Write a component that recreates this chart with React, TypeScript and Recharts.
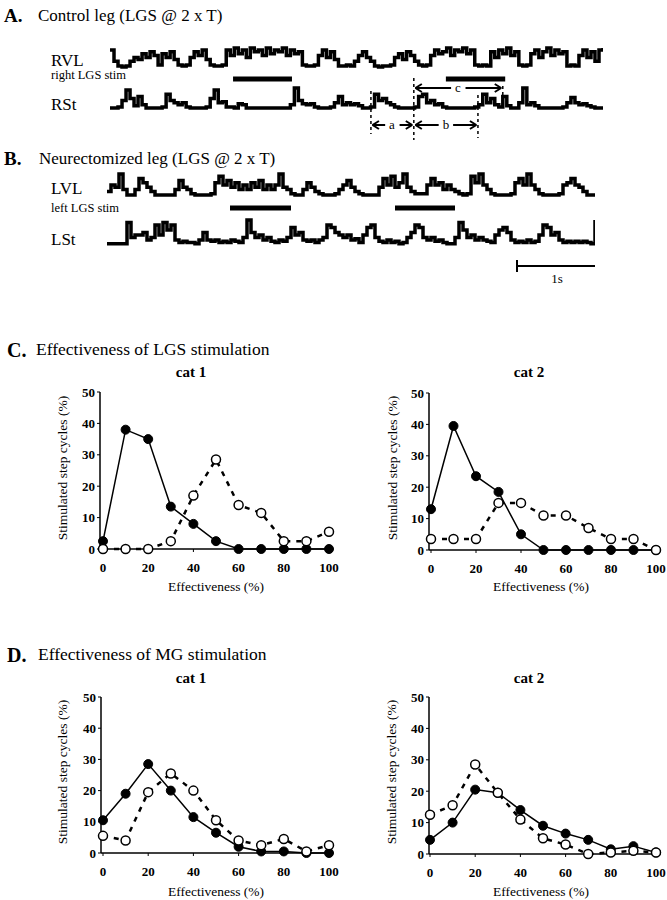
import React from "react";
import { LineChart, Line, XAxis, YAxis, ReferenceLine } from "recharts";

const SERIF = "'Liberation Serif', 'Times New Roman', Times, serif";

// EMG traces, one sample every 50 ms (rectified amplitude, 0-10)
const RVL = [9, 3, 0.5, 0, 0.5, 3, 5, 4, 7, 5, 8, 6, 1, 7, 5, 8, 4, 1, 0.5, 1, 5, 8, 6, 9, 4, 1, 0.5, 0.5, 1, 9, 6, 10, 7, 9, 5, 10, 8, 9, 6, 10, 7, 9, 8, 10, 6, 9, 7, 8, 1, 0.5, 0.5, 1, 6, 9, 5, 8, 4, 0.5, 0.5, 1, 0.5, 3, 6, 8, 5, 3, 0.5, 0, 0.5, 0.5, 1, 5, 7, 4, 8, 6, 3, 1, 0.5, 1, 6, 9, 7, 8, 10, 6, 9, 8, 10, 7, 9, 1, 0.5, 1, 0.5, 8, 5, 9, 7, 10, 6, 8, 1, 0.5, 1, 7, 9, 5, 8, 10, 6, 9, 7, 8, 0.5, 1, 0.5, 6, 9, 5, 8, 3, 9, 10];
const RST = [0.5, 0.5, 1, 4, 9, 5, 1.5, 6, 2, 0.5, 0.5, 0.5, 0.5, 1, 7, 4, 3, 2, 3, 1, 0.5, 0.5, 0.5, 0.5, 1, 5, 9, 3, 3.5, 1, 1, 0.5, 2.5, 2, 0.5, 0.5, 0.5, 0.5, 0.5, 0.5, 0.5, 0.5, 0.5, 0.5, 0.5, 2, 10, 4, 2.5, 2, 2.5, 1, 0.5, 0.5, 0.5, 1, 3, 6, 2, 3, 2, 2.5, 1.5, 0.5, 0.5, 1, 7, 4, 5, 3, 2, 1, 0.5, 0.5, 0.5, 0.5, 1, 6, 7, 3, 4, 2, 2.5, 1, 0.5, 0.5, 0.5, 0.5, 0.5, 0.5, 0.5, 1, 2, 7, 3, 5, 2, 1, 6, 1.5, 0.5, 0.5, 3, 10, 2, 3, 1.5, 0.5, 0.5, 0.5, 0.5, 0.5, 0.5, 1, 3, 5.5, 3, 2, 2.5, 1.5, 1, 0.5, 0.5, 0.5];
const LVL = [2, 5, 4, 10, 3, 0.5, 0.5, 3, 8, 6, 4, 2, 0.5, 0.5, 0.5, 0.5, 0.5, 3, 7, 4, 3, 1, 0.5, 0.5, 0.5, 0.5, 1, 6, 9, 5, 7, 4, 6, 3, 5, 3, 6, 4, 7, 3, 5, 3, 5, 10, 4, 3, 1, 0.5, 0.5, 3, 6, 4, 2, 1, 0.5, 0.5, 0.5, 1, 3, 5, 7, 4, 2, 1, 0.5, 0.5, 0.5, 0.5, 4, 8, 5, 9, 4, 6, 10, 4, 2, 1, 1, 1, 5, 8, 5, 6, 3, 5, 3, 2, 1, 0.5, 1, 9, 6, 10, 5, 3, 1, 0.5, 0.5, 0.5, 0.5, 1, 6, 8, 5, 10, 5, 3, 1, 0.5, 0.5, 0.5, 0.5, 1, 5, 6, 8, 5, 4, 2, 0.5, 0.5, 0.5];
const LST = [0.5, 0.5, 0.5, 0.5, 0.5, 9, 3, 4, 4, 5, 2, 3, 8, 4, 9, 6, 8, 2, 1, 1.5, 1, 1, 0.5, 2, 5, 2, 1.5, 2, 1, 1.5, 1, 2, 1.5, 1, 3, 10, 5, 3, 4, 2, 3, 1.5, 1, 2, 1.5, 3, 7, 4, 5, 2, 1.5, 2, 1, 2, 3, 8, 7, 5, 4, 3, 4, 2, 2.5, 1, 4, 7, 8, 3, 1.5, 1, 2, 1, 1.5, 0.5, 1, 3, 5, 8, 7, 3, 2, 3, 1.5, 2, 1, 0.5, 0.5, 3, 9, 6, 3, 4, 2, 3, 2, 1.5, 1, 4, 6, 7, 5, 2, 1, 1.5, 1, 2, 1, 1.5, 4, 8, 7, 4, 5, 2, 1, 1.5, 1, 1.5, 1, 1.5, 1, 0.5, 10];

// stimulation periods and markers, in samples
const STIM_A = [[30.7, 45.4], [83.8, 98.6]];
const MARK_A = [65.1, 75.8, 91.8, 98.0];
const STIM_B = [[30.75, 46], [72, 87]];
const SCALE_B = [102.5, 122.5];

// effectiveness histograms
const EFF = [0, 10, 20, 30, 40, 50, 60, 70, 80, 90, 100];
const LGS_CAT1_FILLED = [2.5, 38, 35, 13.5, 8, 2.5, 0, 0, 0, 0, 0];
const LGS_CAT1_OPEN = [0, 0, 0, 2.5, 17, 28.5, 14, 11.5, 2.5, 2.5, 5.5];
const LGS_CAT2_FILLED = [13, 39.5, 23.5, 18.5, 5, 0, 0, 0, 0, 0, 0];
const LGS_CAT2_OPEN = [3.5, 3.5, 3.5, 15, 15, 11, 11, 7, 3.5, 3.5, 0];
const MG_CAT1_FILLED = [10.5, 19, 28.5, 20, 11.5, 6.5, 2, 0.5, 0.5, 0, 0];
const MG_CAT1_OPEN = [5.5, 4, 19.5, 25.5, 20, 10.5, 4, 2.5, 4.5, 0.5, 2.5];
const MG_CAT2_FILLED = [4.5, 10, 20.5, 19.5, 14, 9, 6.5, 4.5, 1.5, 2.5, 0.5];
const MG_CAT2_OPEN = [12.5, 15.5, 28.5, 19.5, 11, 5, 3, 0, 0.5, 1, 0.5];

const X_TICKS = [0, 20, 40, 60, 80, 100];
const Y_TICKS = [0, 10, 20, 30, 40, 50];

const Txt = ({ x, y, size, bold = false, center = false, rotate = false, children }: any) => (
  <div
    style={{
      position: "absolute",
      left: x,
      top: y,
      fontFamily: SERIF,
      fontSize: size,
      lineHeight: 1,
      fontWeight: bold ? 700 : 400,
      whiteSpace: "nowrap",
      color: "#000",
      transform: `translate(${center || rotate ? "-50%" : "0"}, -50%)${rotate ? " rotate(-90deg)" : ""}`,
    }}
  >
    {children}
  </div>
);

// y-axis domain so that 0 sits at page y=base and 10 at page y=top
function domainFor(base: number, top: number, chartTop: number, chartH: number) {
  const fb = (chartTop + chartH - base) / chartH;
  const ft = (chartTop + chartH - top) / chartH;
  const range = 10 / (ft - fb);
  const lo = -fb * range;
  return [lo, lo + range];
}

const seg = (key: string, x1: number, y1: number, x2: number, y2: number, w = 2, dash?: string) => (
  <ReferenceLine
    key={key}
    yAxisId="ann"
    segment={[{ x: x1, y: y1 }, { x: x2, y: y2 }]}
    stroke="#000"
    strokeWidth={w}
    strokeDasharray={dash}
    ifOverflow="visible"
  />
);

function arrow(key: string, x1: number, x2: number, v: number) {
  const mid = (x1 + x2) / 2;
  const a = x1 + 0.4;
  const b = x2 - 0.4;
  return [
    seg(key + "l", a, v, mid - 1.8, v),
    seg(key + "r", mid + 1.8, v, b, v),
    seg(key + "h1", a, v, a + 1.6, v + 4),
    seg(key + "h2", a, v, a + 1.6, v - 4),
    seg(key + "h3", b, v, b - 1.6, v + 4),
    seg(key + "h4", b, v, b - 1.6, v - 4),
  ];
}

const TRACE_W = 3.5;

function PanelA() {
  const top = 40, h = 100, left = 110, w = 493;
  const rows = RVL.map((v, i) => ({ i, rvl: v, rst: RST[i] }));
  const yOf = (py: number) => top + h - py; // page y -> annotation value
  return (
    <div style={{ position: "absolute", left, top }}>
      <LineChart width={w} height={h} data={rows} margin={{ top: 0, right: 0, left: 0, bottom: 0 }}>
        <XAxis dataKey="i" type="number" domain={[0, RVL.length - 1]} hide />
        <YAxis yAxisId="rvl" type="number" domain={domainFor(67, 48, top, h)} hide allowDataOverflow />
        <YAxis yAxisId="rst" type="number" domain={domainFor(109, 88, top, h)} hide allowDataOverflow />
        <YAxis yAxisId="ann" type="number" domain={[0, h]} hide allowDataOverflow />
        <Line yAxisId="rvl" dataKey="rvl" type="stepAfter" stroke="#000" strokeWidth={TRACE_W} dot={false} isAnimationActive={false} />
        <Line yAxisId="rst" dataKey="rst" type="stepAfter" stroke="#000" strokeWidth={TRACE_W} dot={false} isAnimationActive={false} />
        {STIM_A.map(([s, e], k) => seg("stim" + k, s, yOf(79), e, yOf(79), 5))}
        {seg("m0", MARK_A[0], yOf(91), MARK_A[0], yOf(134), 1.5, "3 3")}
        {seg("m1", MARK_A[1], yOf(78), MARK_A[1], yOf(140), 1.5, "3 3")}
        {seg("m2", MARK_A[2], yOf(95), MARK_A[2], yOf(138), 1.5, "3 3")}
        {seg("m3", MARK_A[3], yOf(86), MARK_A[3], yOf(110), 1.5, "3 3")}
        {arrow("a", MARK_A[0], MARK_A[1], yOf(125))}
        {arrow("b", MARK_A[1], MARK_A[2], yOf(125))}
        {arrow("c", MARK_A[1], MARK_A[3], yOf(88))}
      </LineChart>
    </div>
  );
}

function PanelB() {
  const top = 165, h = 120, left = 107, w = 488;
  const rows = LVL.map((v, i) => ({ i, lvl: v, lst: LST[i] }));
  const yOf = (py: number) => top + h - py;
  return (
    <div style={{ position: "absolute", left, top }}>
      <LineChart width={w} height={h} data={rows} margin={{ top: 0, right: 0, left: 0, bottom: 0 }}>
        <XAxis dataKey="i" type="number" domain={[0, LVL.length - 1]} hide />
        <YAxis yAxisId="lvl" type="number" domain={domainFor(196, 174, top, h)} hide allowDataOverflow />
        <YAxis yAxisId="lst" type="number" domain={domainFor(245, 220, top, h)} hide allowDataOverflow />
        <YAxis yAxisId="ann" type="number" domain={[0, h]} hide allowDataOverflow />
        <Line yAxisId="lvl" dataKey="lvl" type="stepAfter" stroke="#000" strokeWidth={TRACE_W} dot={false} isAnimationActive={false} />
        <Line yAxisId="lst" dataKey="lst" type="stepAfter" stroke="#000" strokeWidth={TRACE_W} dot={false} isAnimationActive={false} />
        {STIM_B.map(([s, e], k) => seg("stim" + k, s, yOf(208), e, yOf(208), 5))}
        {seg("sb", SCALE_B[0], yOf(266), SCALE_B[1], yOf(266), 2)}
        {seg("sb0", SCALE_B[0], yOf(260), SCALE_B[0], yOf(272), 2)}
        {seg("sb1", SCALE_B[1], yOf(260), SCALE_B[1], yOf(272), 2)}
      </LineChart>
    </div>
  );
}

function EffPlot({ axisX, right, top, bottom, pad, filled, open }: any) {
  const rows = EFF.map((x, k) => ({ x, filled: filled[k], open: open[k] }));
  const yw = 50, mt = 10, mr = 15, xh = 30;
  const tickFont = { fill: "#000", fontSize: 13, fontWeight: 700, fontFamily: SERIF };
  return (
    <div style={{ position: "absolute", left: axisX - yw, top: top - mt }}>
      <LineChart
        width={yw + (right - axisX) + mr}
        height={mt + (bottom - top) + xh}
        data={rows}
        margin={{ top: mt, right: mr, left: 0, bottom: 0 }}
      >
        <XAxis
          dataKey="x"
          type="number"
          domain={[0, 100]}
          ticks={X_TICKS}
          interval={0}
          padding={{ left: pad, right: 0 }}
          height={xh}
          tickSize={3}
          tickMargin={11}
          tick={tickFont}
          axisLine={{ stroke: "#000", strokeWidth: 1.5 }}
          tickLine={{ stroke: "#000" }}
        />
        <YAxis
          type="number"
          domain={[0, 50]}
          ticks={Y_TICKS}
          interval={0}
          width={yw}
          tickSize={3}
          tickMargin={2}
          tick={tickFont}
          axisLine={{ stroke: "#000", strokeWidth: 1.5 }}
          tickLine={{ stroke: "#000" }}
        />
        <Line
          dataKey="filled"
          type="linear"
          stroke="#000"
          strokeWidth={1.5}
          dot={{ r: 4.5, fill: "#000", stroke: "#000", strokeWidth: 1 }}
          isAnimationActive={false}
        />
        <Line
          dataKey="open"
          type="linear"
          stroke="#000"
          strokeWidth={2.5}
          strokeDasharray="5 6"
          dot={{ r: 4.5, fill: "#fff", stroke: "#000", strokeWidth: 1.5, strokeDasharray: "none" }}
          isAnimationActive={false}
        />
      </LineChart>
    </div>
  );
}

export default function App() {
  return (
    <div style={{ position: "absolute", left: 0, top: 0, width: 667, height: 900, background: "#fff" }}>
      {/* A */}
      <Txt x={4} y={15} size={19} bold>A.</Txt>
      <Txt x={38} y={15} size={17}>Control leg (LGS @ 2 x T)</Txt>
      <Txt x={51} y={60} size={17}>RVL</Txt>
      <Txt x={51} y={75} size={12.5}>right LGS stim</Txt>
      <Txt x={51} y={104} size={17}>RSt</Txt>
      <PanelA />
      <Txt x={392} y={124} size={13} center>a</Txt>
      <Txt x={446} y={124} size={13} center>b</Txt>
      <Txt x={458} y={87} size={13} center>c</Txt>

      {/* B */}
      <Txt x={4} y={158} size={19} bold>B.</Txt>
      <Txt x={39} y={158} size={17}>Neurectomized leg (LGS @ 2 x T)</Txt>
      <Txt x={51} y={188} size={17}>LVL</Txt>
      <Txt x={51} y={208} size={12.5}>left LGS stim</Txt>
      <Txt x={51} y={239} size={17}>LSt</Txt>
      <PanelB />
      <Txt x={557} y={278} size={13} center>1s</Txt>

      {/* C */}
      <Txt x={7} y={350} size={20} bold>C.</Txt>
      <Txt x={36} y={350} size={17.5}>Effectiveness of LGS stimulation</Txt>
      <Txt x={191} y={372} size={15} bold center>cat 1</Txt>
      <Txt x={529} y={372} size={15} bold center>cat 2</Txt>
      <Txt x={63} y={468} size={13.5} rotate>Stimulated step cycles (%)</Txt>
      <Txt x={393} y={468} size={13.5} rotate>Stimulated step cycles (%)</Txt>
      <EffPlot axisX={100} right={329} top={392} bottom={549} pad={3} filled={LGS_CAT1_FILLED} open={LGS_CAT1_OPEN} />
      <EffPlot axisX={429} right={656} top={393} bottom={550} pad={2} filled={LGS_CAT2_FILLED} open={LGS_CAT2_OPEN} />
      <Txt x={216} y={587} size={13.5} center>Effectiveness (%)</Txt>
      <Txt x={541} y={587} size={13.5} center>Effectiveness (%)</Txt>

      {/* D */}
      <Txt x={7} y={655} size={20} bold>D.</Txt>
      <Txt x={38} y={655} size={17.5}>Effectiveness of MG stimulation</Txt>
      <Txt x={191} y={678} size={15} bold center>cat 1</Txt>
      <Txt x={529} y={678} size={15} bold center>cat 2</Txt>
      <Txt x={63} y={772} size={13.5} rotate>Stimulated step cycles (%)</Txt>
      <Txt x={392} y={772} size={13.5} rotate>Stimulated step cycles (%)</Txt>
      <EffPlot axisX={101} right={329} top={697} bottom={853} pad={2} filled={MG_CAT1_FILLED} open={MG_CAT1_OPEN} />
      <EffPlot axisX={429} right={656} top={697} bottom={854} pad={1} filled={MG_CAT2_FILLED} open={MG_CAT2_OPEN} />
      <Txt x={216} y={892} size={13.5} center>Effectiveness (%)</Txt>
      <Txt x={541} y={892} size={13.5} center>Effectiveness (%)</Txt>
    </div>
  );
}
